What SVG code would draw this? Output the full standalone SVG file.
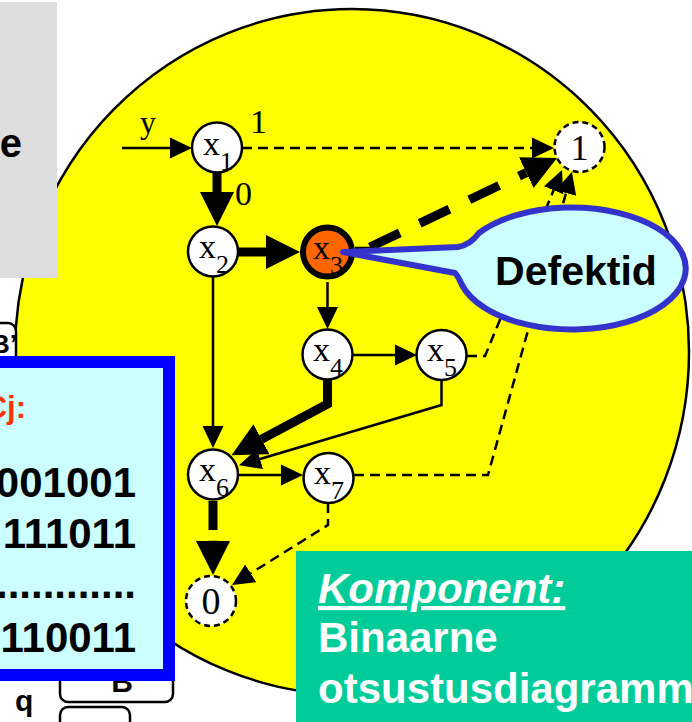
<svg xmlns="http://www.w3.org/2000/svg" width="692" height="722" viewBox="0 0 692 722">
  <defs>
    <!-- arrowheads: base sits on the path end, tip points forward -->
    <marker id="ah" viewBox="0 -11 22 22" refX="0" refY="0" markerWidth="22" markerHeight="22" markerUnits="userSpaceOnUse" orient="auto">
      <path d="M0,-10.5 L22,0 L0,10.5 Z" fill="#000"/>
    </marker>
    <marker id="ahT" viewBox="0 -17 34 34" refX="0" refY="0" markerWidth="34" markerHeight="34" markerUnits="userSpaceOnUse" orient="auto">
      <path d="M0,-17 L34,0 L0,17 Z" fill="#000"/>
    </marker>
    <style>
      .sans { font-family: "Liberation Sans", Arial, sans-serif; font-weight: bold; }
      .serif { font-family: "Liberation Serif", "Times New Roman", serif; }
      .node circle { fill: #fff; stroke: #000; stroke-width: 2.5; }
      .node text { font-family: "Liberation Serif", "Times New Roman", serif; font-size: 34px; fill: #000; }
      .node tspan.sub { font-size: 26px; }
      .term circle { stroke-dasharray: 6 4; }
      .e { fill: none; stroke: #000; stroke-width: 2.5; }
      .thin { marker-end: url(#ah); }
      .thick { stroke-width: 9; marker-end: url(#ahT); }
      .dash { stroke-dasharray: 10 6; marker-end: url(#ah); }
      .bigdash { stroke-width: 9; stroke-dasharray: 33 22; marker-end: url(#ahT); }
      .box { fill: #fff; stroke: #000; stroke-width: 2.5; }
    </style>
  </defs>

  <!-- component area -->
  <ellipse cx="352" cy="352" rx="337" ry="343" fill="#ffff00" stroke="#000" stroke-width="2.5"/>

  <!-- side panels -->
  <g id="panel-grey">
    <rect x="0" y="2" width="57" height="276" fill="#dddddd"/>
    <text class="sans" x="22" y="157" font-size="40" text-anchor="end">e</text>
  </g>

  <g id="panel-keys">
    <rect class="box" x="-20" y="323" width="36" height="60" rx="8"/>
    <text class="sans" x="-9" y="353" font-size="26">B’</text>
    <rect class="box" x="60" y="640" width="113" height="62" rx="8"/>
    <text class="sans" x="103" y="692" font-size="30">’B</text>
    <rect class="box" x="60" y="707" width="70" height="40" rx="8"/>
    <text class="sans" x="15" y="711" font-size="30">q</text>
  </g>

  <g id="panel-tests">
    <rect x="-20" y="362" width="189" height="313" fill="#ccffff" stroke="#0000ff" stroke-width="12"/>
    <text class="sans" x="26" y="418" font-size="31" fill="#ff3300" text-anchor="end">Cj:</text>
    <g class="sans" font-size="42" text-anchor="end">
      <text x="136" y="497">001001</text>
      <text x="136" y="548">111011</text>
      <text x="136" y="598">............</text>
      <text x="136" y="652">110011</text>
    </g>
  </g>

  <!-- connectors -->
  <g id="connectors">
    <line class="e thin" x1="122" y1="148" x2="170" y2="148"/>
    <text class="serif" x="140" y="133" font-size="32">y</text>

    <line class="e thick" x1="217" y1="173" x2="217" y2="192"/>
    <text class="serif" x="235" y="205" font-size="34">0</text>

    <line class="e dash" x1="242" y1="148" x2="532" y2="148"/>
    <text class="serif" x="250" y="133" font-size="34">1</text>

    <line class="e thick" x1="238" y1="252" x2="266" y2="252"/>
    <line class="e thin" x1="327.5" y1="282" x2="327.5" y2="307"/>
    <line class="e thin" x1="353" y1="355" x2="395" y2="355"/>
    <line class="e thin" x1="213" y1="277" x2="213" y2="426"/>
    <path class="e thick" d="M327.5,380 V404 L261.5,439.2"/>
    <path class="e thin" d="M441.5,381 V405 L260,459"/>
    <line class="e thin" x1="239" y1="475" x2="281" y2="475"/>
    <path class="e thick" d="M213,501 V530 M213,540.8 V541"/>
    <path class="e dash" d="M328,503 V525 L250.7,573.3"/>

    <line class="e" x1="355" y1="248" x2="372" y2="248"/>
    <line class="e bigdash" x1="370" y1="247" x2="526.3" y2="172.6"/>

    <path class="e dash" d="M467,356 H485 L553.6,190.3"/>
    <path class="e dash" d="M354,475 H488 L566,193"/>
  </g>

  <!-- decision nodes -->
  <g id="node-x1" class="node">
    <circle cx="217" cy="147.5" r="25"/>
    <text x="203" y="155">x<tspan class="sub" dy="15">1</tspan></text>
  </g>
  <g id="node-x2" class="node">
    <circle cx="213" cy="251.5" r="25"/>
    <text x="199" y="258">x<tspan class="sub" dy="15">2</tspan></text>
  </g>
  <g id="node-x3" class="node">
    <circle cx="327.5" cy="252" r="24.5" style="fill:#ff6600;stroke-width:6"/>
    <text x="313" y="259">x<tspan class="sub" dy="15">3</tspan></text>
  </g>
  <g id="node-x4" class="node">
    <circle cx="327.5" cy="354.5" r="25"/>
    <text x="313" y="361">x<tspan class="sub" dy="15">4</tspan></text>
  </g>
  <g id="node-x5" class="node">
    <circle cx="441.5" cy="355" r="25"/>
    <text x="427" y="361">x<tspan class="sub" dy="15">5</tspan></text>
  </g>
  <g id="node-x6" class="node">
    <circle cx="213" cy="474.5" r="25"/>
    <text x="199" y="481">x<tspan class="sub" dy="15">6</tspan></text>
  </g>
  <g id="node-x7" class="node">
    <circle cx="328.5" cy="478" r="25"/>
    <text x="314" y="484">x<tspan class="sub" dy="15">7</tspan></text>
  </g>

  <!-- terminal nodes -->
  <g id="node-one" class="node term">
    <circle cx="579.5" cy="147" r="25"/>
    <text x="579.5" y="160" text-anchor="middle" style="font-size:36px">1</text>
  </g>
  <g id="node-zero" class="node term">
    <circle cx="211" cy="601" r="25"/>
    <text x="211" y="614" text-anchor="middle" style="font-size:38px">0</text>
  </g>

  <!-- callout -->
  <g id="callout-defects">
    <path d="M343,252 L458,247 Q470,245 479,233 A114,61 0 1,1 462,285 Q458,276 455,273 Z" fill="#ccffff" stroke="#3333cc" stroke-width="6" stroke-linejoin="round"/>
    <text class="sans" x="576" y="285" font-size="41" text-anchor="middle">Defektid</text>
  </g>

  <!-- caption -->
  <g id="caption">
    <rect x="296" y="551" width="400" height="175" fill="#00cc99"/>
    <g class="sans" font-size="42" fill="#fff">
      <text x="318" y="603" font-style="italic" text-decoration="underline">Komponent:</text>
      <text x="318" y="652">Binaarne</text>
      <text x="318" y="703">otsustusdiagramm</text>
    </g>
  </g>
</svg>
